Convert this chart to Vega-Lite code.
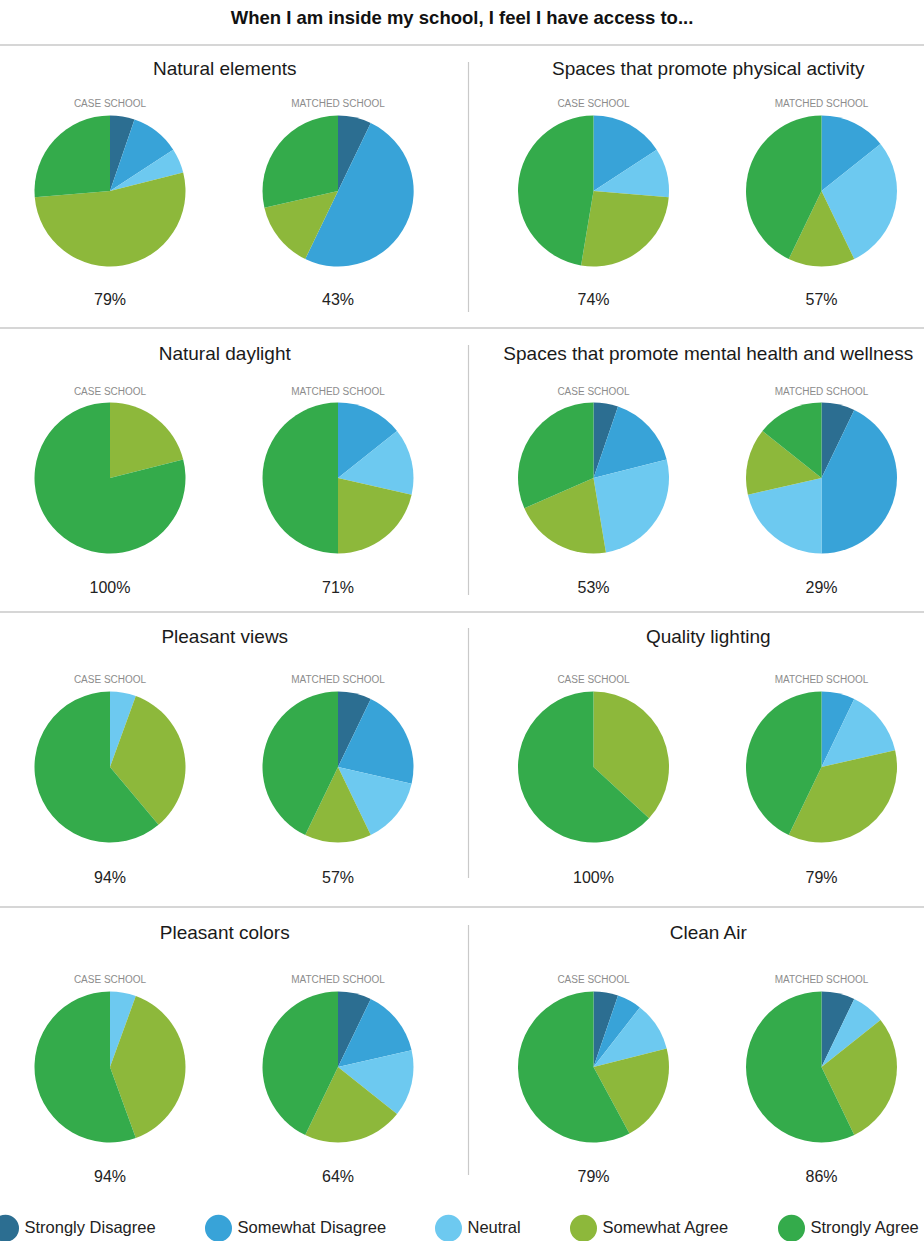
{
  "$schema": "https://vega.github.io/schema/vega-lite/v6.json",
  "width": 924,
  "height": 1205,
  "autosize": {"type": "none"},
  "padding": {"top": 36, "left": 0, "right": 0, "bottom": 0},
  "background": "white",
  "title": {"text": "When I am inside my school, I feel I have access to...", "fontSize": 18.5, "font": "Liberation Sans", "fontWeight": "bold", "color": "#111111", "anchor": "middle", "offset": 9},
  "config": {"view": {"stroke": null}, "font": "Liberation Sans"},
  "datasets": {
    "panels": [
      {"topic": "Natural elements", "row": 1, "side": "L"},
      {"topic": "Spaces that promote physical activity", "row": 1, "side": "R"},
      {"topic": "Natural daylight", "row": 2, "side": "L"},
      {"topic": "Spaces that promote mental health and wellness", "row": 2, "side": "R"},
      {"topic": "Pleasant views", "row": 3, "side": "L"},
      {"topic": "Quality lighting", "row": 3, "side": "R"},
      {"topic": "Pleasant colors", "row": 4, "side": "L"},
      {"topic": "Clean Air", "row": 4, "side": "R"}
    ],
    "pies": [
      {"topic": "Natural elements", "school": "CASE SCHOOL", "agree": "79%"},
      {"topic": "Natural elements", "school": "MATCHED SCHOOL", "agree": "43%"},
      {"topic": "Spaces that promote physical activity", "school": "CASE SCHOOL", "agree": "74%"},
      {"topic": "Spaces that promote physical activity", "school": "MATCHED SCHOOL", "agree": "57%"},
      {"topic": "Natural daylight", "school": "CASE SCHOOL", "agree": "100%"},
      {"topic": "Natural daylight", "school": "MATCHED SCHOOL", "agree": "71%"},
      {"topic": "Spaces that promote mental health and wellness", "school": "CASE SCHOOL", "agree": "53%"},
      {"topic": "Spaces that promote mental health and wellness", "school": "MATCHED SCHOOL", "agree": "29%"},
      {"topic": "Pleasant views", "school": "CASE SCHOOL", "agree": "94%"},
      {"topic": "Pleasant views", "school": "MATCHED SCHOOL", "agree": "57%"},
      {"topic": "Quality lighting", "school": "CASE SCHOOL", "agree": "100%"},
      {"topic": "Quality lighting", "school": "MATCHED SCHOOL", "agree": "79%"},
      {"topic": "Pleasant colors", "school": "CASE SCHOOL", "agree": "94%"},
      {"topic": "Pleasant colors", "school": "MATCHED SCHOOL", "agree": "64%"},
      {"topic": "Clean Air", "school": "CASE SCHOOL", "agree": "79%"},
      {"topic": "Clean Air", "school": "MATCHED SCHOOL", "agree": "86%"}
    ],
    "slices": [
      {"topic": "Natural elements", "school": "CASE SCHOOL", "response": "Strongly Disagree", "level": 1, "n": 1},
      {"topic": "Natural elements", "school": "CASE SCHOOL", "response": "Somewhat Disagree", "level": 2, "n": 2},
      {"topic": "Natural elements", "school": "CASE SCHOOL", "response": "Neutral", "level": 3, "n": 1},
      {"topic": "Natural elements", "school": "CASE SCHOOL", "response": "Somewhat Agree", "level": 4, "n": 10},
      {"topic": "Natural elements", "school": "CASE SCHOOL", "response": "Strongly Agree", "level": 5, "n": 5},
      {"topic": "Natural elements", "school": "MATCHED SCHOOL", "response": "Strongly Disagree", "level": 1, "n": 1},
      {"topic": "Natural elements", "school": "MATCHED SCHOOL", "response": "Somewhat Disagree", "level": 2, "n": 7},
      {"topic": "Natural elements", "school": "MATCHED SCHOOL", "response": "Somewhat Agree", "level": 4, "n": 2},
      {"topic": "Natural elements", "school": "MATCHED SCHOOL", "response": "Strongly Agree", "level": 5, "n": 4},
      {"topic": "Spaces that promote physical activity", "school": "CASE SCHOOL", "response": "Somewhat Disagree", "level": 2, "n": 3},
      {"topic": "Spaces that promote physical activity", "school": "CASE SCHOOL", "response": "Neutral", "level": 3, "n": 2},
      {"topic": "Spaces that promote physical activity", "school": "CASE SCHOOL", "response": "Somewhat Agree", "level": 4, "n": 5},
      {"topic": "Spaces that promote physical activity", "school": "CASE SCHOOL", "response": "Strongly Agree", "level": 5, "n": 9},
      {"topic": "Spaces that promote physical activity", "school": "MATCHED SCHOOL", "response": "Somewhat Disagree", "level": 2, "n": 2},
      {"topic": "Spaces that promote physical activity", "school": "MATCHED SCHOOL", "response": "Neutral", "level": 3, "n": 4},
      {"topic": "Spaces that promote physical activity", "school": "MATCHED SCHOOL", "response": "Somewhat Agree", "level": 4, "n": 2},
      {"topic": "Spaces that promote physical activity", "school": "MATCHED SCHOOL", "response": "Strongly Agree", "level": 5, "n": 6},
      {"topic": "Natural daylight", "school": "CASE SCHOOL", "response": "Somewhat Agree", "level": 4, "n": 4},
      {"topic": "Natural daylight", "school": "CASE SCHOOL", "response": "Strongly Agree", "level": 5, "n": 15},
      {"topic": "Natural daylight", "school": "MATCHED SCHOOL", "response": "Somewhat Disagree", "level": 2, "n": 2},
      {"topic": "Natural daylight", "school": "MATCHED SCHOOL", "response": "Neutral", "level": 3, "n": 2},
      {"topic": "Natural daylight", "school": "MATCHED SCHOOL", "response": "Somewhat Agree", "level": 4, "n": 3},
      {"topic": "Natural daylight", "school": "MATCHED SCHOOL", "response": "Strongly Agree", "level": 5, "n": 7},
      {"topic": "Spaces that promote mental health and wellness", "school": "CASE SCHOOL", "response": "Strongly Disagree", "level": 1, "n": 1},
      {"topic": "Spaces that promote mental health and wellness", "school": "CASE SCHOOL", "response": "Somewhat Disagree", "level": 2, "n": 3},
      {"topic": "Spaces that promote mental health and wellness", "school": "CASE SCHOOL", "response": "Neutral", "level": 3, "n": 5},
      {"topic": "Spaces that promote mental health and wellness", "school": "CASE SCHOOL", "response": "Somewhat Agree", "level": 4, "n": 4},
      {"topic": "Spaces that promote mental health and wellness", "school": "CASE SCHOOL", "response": "Strongly Agree", "level": 5, "n": 6},
      {"topic": "Spaces that promote mental health and wellness", "school": "MATCHED SCHOOL", "response": "Strongly Disagree", "level": 1, "n": 1},
      {"topic": "Spaces that promote mental health and wellness", "school": "MATCHED SCHOOL", "response": "Somewhat Disagree", "level": 2, "n": 6},
      {"topic": "Spaces that promote mental health and wellness", "school": "MATCHED SCHOOL", "response": "Neutral", "level": 3, "n": 3},
      {"topic": "Spaces that promote mental health and wellness", "school": "MATCHED SCHOOL", "response": "Somewhat Agree", "level": 4, "n": 2},
      {"topic": "Spaces that promote mental health and wellness", "school": "MATCHED SCHOOL", "response": "Strongly Agree", "level": 5, "n": 2},
      {"topic": "Pleasant views", "school": "CASE SCHOOL", "response": "Neutral", "level": 3, "n": 1},
      {"topic": "Pleasant views", "school": "CASE SCHOOL", "response": "Somewhat Agree", "level": 4, "n": 6},
      {"topic": "Pleasant views", "school": "CASE SCHOOL", "response": "Strongly Agree", "level": 5, "n": 11},
      {"topic": "Pleasant views", "school": "MATCHED SCHOOL", "response": "Strongly Disagree", "level": 1, "n": 1},
      {"topic": "Pleasant views", "school": "MATCHED SCHOOL", "response": "Somewhat Disagree", "level": 2, "n": 3},
      {"topic": "Pleasant views", "school": "MATCHED SCHOOL", "response": "Neutral", "level": 3, "n": 2},
      {"topic": "Pleasant views", "school": "MATCHED SCHOOL", "response": "Somewhat Agree", "level": 4, "n": 2},
      {"topic": "Pleasant views", "school": "MATCHED SCHOOL", "response": "Strongly Agree", "level": 5, "n": 6},
      {"topic": "Quality lighting", "school": "CASE SCHOOL", "response": "Somewhat Agree", "level": 4, "n": 7},
      {"topic": "Quality lighting", "school": "CASE SCHOOL", "response": "Strongly Agree", "level": 5, "n": 12},
      {"topic": "Quality lighting", "school": "MATCHED SCHOOL", "response": "Somewhat Disagree", "level": 2, "n": 1},
      {"topic": "Quality lighting", "school": "MATCHED SCHOOL", "response": "Neutral", "level": 3, "n": 2},
      {"topic": "Quality lighting", "school": "MATCHED SCHOOL", "response": "Somewhat Agree", "level": 4, "n": 5},
      {"topic": "Quality lighting", "school": "MATCHED SCHOOL", "response": "Strongly Agree", "level": 5, "n": 6},
      {"topic": "Pleasant colors", "school": "CASE SCHOOL", "response": "Neutral", "level": 3, "n": 1},
      {"topic": "Pleasant colors", "school": "CASE SCHOOL", "response": "Somewhat Agree", "level": 4, "n": 7},
      {"topic": "Pleasant colors", "school": "CASE SCHOOL", "response": "Strongly Agree", "level": 5, "n": 10},
      {"topic": "Pleasant colors", "school": "MATCHED SCHOOL", "response": "Strongly Disagree", "level": 1, "n": 1},
      {"topic": "Pleasant colors", "school": "MATCHED SCHOOL", "response": "Somewhat Disagree", "level": 2, "n": 2},
      {"topic": "Pleasant colors", "school": "MATCHED SCHOOL", "response": "Neutral", "level": 3, "n": 2},
      {"topic": "Pleasant colors", "school": "MATCHED SCHOOL", "response": "Somewhat Agree", "level": 4, "n": 3},
      {"topic": "Pleasant colors", "school": "MATCHED SCHOOL", "response": "Strongly Agree", "level": 5, "n": 6},
      {"topic": "Clean Air", "school": "CASE SCHOOL", "response": "Strongly Disagree", "level": 1, "n": 1},
      {"topic": "Clean Air", "school": "CASE SCHOOL", "response": "Somewhat Disagree", "level": 2, "n": 1},
      {"topic": "Clean Air", "school": "CASE SCHOOL", "response": "Neutral", "level": 3, "n": 2},
      {"topic": "Clean Air", "school": "CASE SCHOOL", "response": "Somewhat Agree", "level": 4, "n": 4},
      {"topic": "Clean Air", "school": "CASE SCHOOL", "response": "Strongly Agree", "level": 5, "n": 11},
      {"topic": "Clean Air", "school": "MATCHED SCHOOL", "response": "Strongly Disagree", "level": 1, "n": 1},
      {"topic": "Clean Air", "school": "MATCHED SCHOOL", "response": "Neutral", "level": 3, "n": 1},
      {"topic": "Clean Air", "school": "MATCHED SCHOOL", "response": "Somewhat Agree", "level": 4, "n": 4},
      {"topic": "Clean Air", "school": "MATCHED SCHOOL", "response": "Strongly Agree", "level": 5, "n": 8}
    ]
  },
  "resolve": {"scale": {"y": "independent"}},
  "layer": [
    {
      "data": {"name": "panels"},
      "transform": [{"filter": "datum.side === 'L'"}],
      "mark": {"type": "rule", "color": "#c9c9c9", "strokeWidth": 1.5},
      "encoding": {
        "y": {"field": "row", "type": "quantitative", "scale": {"domain": [1, 2, 3, 4], "range": [9, 292, 576, 871], "zero": false, "nice": false}, "axis": null}
      }
    },
    {
      "data": {"name": "panels"},
      "transform": [{"filter": "datum.side === 'R'"}],
      "mark": {"type": "rule", "color": "#c9c9c9", "strokeWidth": 1.2, "xOffset": 2, "y2Offset": 250},
      "encoding": {
        "x": {"field": "side", "type": "nominal", "bandPosition": 0, "scale": {"domain": ["L", "R"], "range": [-17, 950], "paddingInner": 0, "paddingOuter": 0}, "axis": null},
        "y": {"field": "row", "type": "quantitative", "stack": null, "scale": {"domain": [1, 2, 3, 4], "range": [26, 309, 592, 889], "zero": false, "nice": false}, "axis": null},
        "y2": {"field": "row"}
      }
    },
    {
      "data": {"name": "slices"},
      "transform": [
        {"lookup": "topic", "from": {"data": {"name": "panels"}, "key": "topic", "fields": ["row", "side"]}},
        {"stack": "n", "groupby": ["topic", "school"], "sort": [{"field": "level", "order": "ascending"}], "offset": "normalize", "as": ["t0", "t1"]}
      ],
      "mark": {"type": "arc", "radius": 75.5},
      "encoding": {
        "x": {"field": "side", "type": "nominal", "scale": {"domain": ["L", "R"], "range": [-17, 950], "paddingInner": 0, "paddingOuter": 0}, "axis": null},
        "xOffset": {"field": "school", "type": "nominal", "scale": {"type": "point", "domain": ["CASE SCHOOL", "MATCHED SCHOOL"], "range": [127, 355], "padding": 0}},
        "y": {"field": "row", "type": "quantitative", "stack": null, "scale": {"domain": [1, 2, 3, 4], "range": [155, 442, 731, 1031], "zero": false, "nice": false}, "axis": null},
        "theta": {"field": "t0", "type": "quantitative", "stack": null, "scale": {"domain": [0, 1], "range": [0, 6.283185307179586]}},
        "theta2": {"field": "t1"},
        "color": {
          "field": "response", "type": "nominal",
          "scale": {"domain": ["Strongly Disagree", "Somewhat Disagree", "Neutral", "Somewhat Agree", "Strongly Agree"], "range": ["#2c6e91", "#38a3d8", "#6dc9f0", "#8db83b", "#34ab4b"]},
          "legend": {"orient": "none", "legendX": -8.5, "legendY": 1178, "direction": "horizontal", "columns": 5, "title": null, "symbolType": "circle", "symbolSize": 730, "symbolStrokeWidth": 0, "symbolOpacity": 1, "labelFontSize": 16.5, "labelColor": "#222222", "labelFont": "Liberation Sans", "labelLimit": 300, "columnPadding": 48, "labelOffset": 5, "padding": 0}
        }
      }
    },
    {
      "data": {"name": "panels"},
      "mark": {"type": "text", "fontSize": 19, "color": "#1a1a1a", "align": "center", "baseline": "middle"},
      "encoding": {
        "x": {"field": "side", "type": "nominal", "scale": {"domain": ["L", "R"], "range": [-17, 950], "paddingInner": 0, "paddingOuter": 0}, "axis": null},
        "y": {"field": "row", "type": "quantitative", "stack": null, "scale": {"domain": [1, 2, 3, 4], "range": [33, 318, 601, 897], "zero": false, "nice": false}, "axis": null},
        "text": {"field": "topic"}
      }
    },
    {
      "data": {"name": "pies"},
      "transform": [{"lookup": "topic", "from": {"data": {"name": "panels"}, "key": "topic", "fields": ["row", "side"]}}],
      "mark": {"type": "text", "fontSize": 10, "color": "#8c8c8c", "align": "center", "baseline": "middle"},
      "encoding": {
        "x": {"field": "side", "type": "nominal", "scale": {"domain": ["L", "R"], "range": [-17, 950], "paddingInner": 0, "paddingOuter": 0}, "axis": null},
        "xOffset": {"field": "school", "type": "nominal", "scale": {"type": "point", "domain": ["CASE SCHOOL", "MATCHED SCHOOL"], "range": [127, 355], "padding": 0}},
        "y": {"field": "row", "type": "quantitative", "stack": null, "scale": {"domain": [1, 2, 3, 4], "range": [68, 356, 644, 944], "zero": false, "nice": false}, "axis": null},
        "text": {"field": "school"}
      }
    },
    {
      "data": {"name": "pies"},
      "transform": [{"lookup": "topic", "from": {"data": {"name": "panels"}, "key": "topic", "fields": ["row", "side"]}}],
      "mark": {"type": "text", "fontSize": 16, "color": "#222222", "align": "center", "baseline": "middle"},
      "encoding": {
        "x": {"field": "side", "type": "nominal", "scale": {"domain": ["L", "R"], "range": [-17, 950], "paddingInner": 0, "paddingOuter": 0}, "axis": null},
        "xOffset": {"field": "school", "type": "nominal", "scale": {"type": "point", "domain": ["CASE SCHOOL", "MATCHED SCHOOL"], "range": [127, 355], "padding": 0}},
        "y": {"field": "row", "type": "quantitative", "stack": null, "scale": {"domain": [1, 2, 3, 4], "range": [264, 552, 842, 1141], "zero": false, "nice": false}, "axis": null},
        "text": {"field": "agree"}
      }
    }
  ]
}
